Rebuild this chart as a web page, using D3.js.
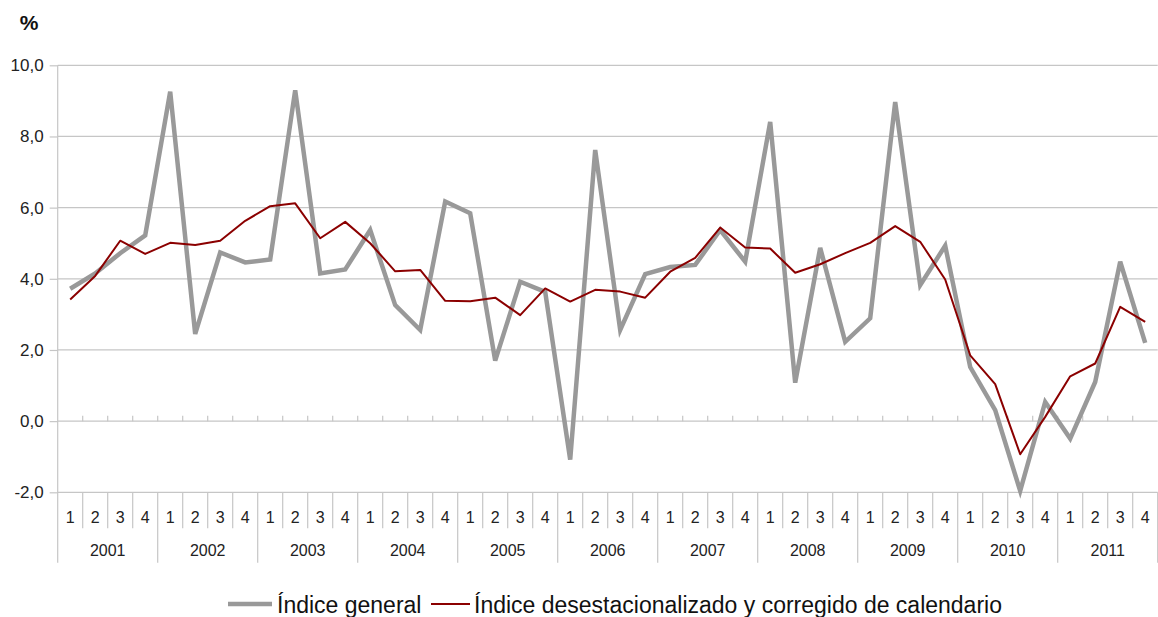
<!DOCTYPE html>
<html>
<head>
<meta charset="utf-8">
<script src="https://cdnjs.cloudflare.com/ajax/libs/d3/7.8.5/d3.min.js"></script>
<style>
  html, body { margin: 0; padding: 0; background: #fff; }
  svg { display: block; font-family: "Liberation Sans", Arial, sans-serif; }
</style>
</head>
<body>
<svg id="chart" width="1158" height="617"></svg>
<script>
// ---- Data ----
const years = ["2001","2002","2003","2004","2005","2006","2007","2008","2009","2010","2011"];
const quarters = ["1","2","3","4"];
const yTicks = [-2, 0, 2, 4, 6, 8, 10];
const seriesNames = ["Índice general", "Índice desestacionalizado y corregido de calendario"];

const indiceGeneral = [
  3.72, 4.15, 4.72, 5.22,
  9.26, 2.45, 4.74, 4.46,
  4.54, 9.30, 4.15, 4.26,
  5.37, 3.26, 2.56, 6.17,
  5.84, 1.70, 3.92, 3.63,
  -1.08, 7.62, 2.56, 4.13,
  4.33, 4.39, 5.37, 4.48,
  8.41, 1.08, 4.87, 2.23,
  2.89, 8.97, 3.82, 4.93,
  1.52, 0.31, -1.96, 0.54,
  -0.49, 1.10, 4.48, 2.20
];
const indiceDesest = [
  3.42, 4.08, 5.07, 4.70,
  5.01, 4.95, 5.07, 5.63,
  6.04, 6.12, 5.14, 5.60,
  5.00, 4.21, 4.25, 3.38,
  3.37, 3.47, 2.98, 3.73,
  3.36, 3.69, 3.64, 3.47,
  4.20, 4.59, 5.44, 4.88,
  4.85, 4.17, 4.41, 4.72,
  5.01, 5.48, 5.04, 3.98,
  1.85, 1.04, -0.93, 0.12,
  1.26, 1.62, 3.21, 2.79
];

// ---- Setup ----
const svg = d3.select("#chart");
const mLeft = 57.7, mRight = 1157.7, mTop = 65.3, mBottom = 492.3;
const gridColor = "#c6c6c6";

const cats = [];
years.forEach(yr => quarters.forEach(q => cats.push(yr + "-" + q)));

const x = d3.scaleBand().domain(cats).range([mLeft, mRight]).paddingInner(0).paddingOuter(0);
const xYear = d3.scaleBand().domain(years).range([mLeft, mRight]);
const y = d3.scaleLinear().domain([-2, 10]).range([mBottom, mTop]);

const locale = d3.formatLocale({decimal: ",", thousands: ".", grouping: [3], currency: ["", "€"], minus: "-"});
const fmt = locale.format(".1f");

// gridlines
svg.append("g").selectAll("line").data(yTicks).join("line")
  .attr("x1", mLeft).attr("x2", mRight)
  .attr("y1", d => y(d)).attr("y2", d => y(d))
  .attr("stroke", gridColor).attr("stroke-width", 1.2);

// y axis
const yAxis = svg.append("g").attr("transform", `translate(${mLeft},0)`)
  .call(d3.axisLeft(y).tickValues(yTicks).tickFormat(fmt).tickSizeInner(8).tickSizeOuter(0).tickPadding(6));
yAxis.select(".domain").remove();
yAxis.selectAll(".tick line").attr("stroke", gridColor).attr("stroke-width", 1.2);
yAxis.selectAll(".tick text").attr("font-size", 17).attr("fill", "#222").attr("font-family", "Liberation Sans, Arial, sans-serif");

// left axis line (extends into category table)
svg.append("line").attr("x1", mLeft).attr("x2", mLeft).attr("y1", mTop).attr("y2", mBottom + 70.5)
  .attr("stroke", gridColor).attr("stroke-width", 1.2);

// ticks on zero line (upward) at quarter boundaries
const boundaries = cats.slice(1).map(c => x(c));
svg.append("g").selectAll("line").data(boundaries).join("line")
  .attr("x1", d => d).attr("x2", d => d)
  .attr("y1", y(0)).attr("y2", y(0) - 5.5)
  .attr("stroke", gridColor).attr("stroke-width", 1.2);

// category table separators
svg.append("g").selectAll("line").data(cats.slice(1)).join("line")
  .attr("x1", d => x(d)).attr("x2", d => x(d))
  .attr("y1", mBottom)
  .attr("y2", d => d.endsWith("-1") ? mBottom + 70.5 : mBottom + 36)
  .attr("stroke", gridColor).attr("stroke-width", 1.2);
svg.append("line").attr("x1", mRight).attr("x2", mRight).attr("y1", mBottom).attr("y2", mBottom + 70.5)
  .attr("stroke", gridColor).attr("stroke-width", 1.2);

// quarter labels
svg.append("g").selectAll("text").data(cats).join("text")
  .attr("x", d => x(d) + x.bandwidth() / 2)
  .attr("y", mBottom + 31)
  .attr("text-anchor", "middle")
  .attr("font-size", 16).attr("fill", "#222")
  .text(d => d.split("-")[1]);

// year labels
svg.append("g").selectAll("text").data(years).join("text")
  .attr("x", d => xYear(d) + xYear.bandwidth() / 2)
  .attr("y", mBottom + 64)
  .attr("text-anchor", "middle")
  .attr("font-size", 16).attr("fill", "#222")
  .text(d => d);

// % label
svg.append("text").attr("x", 29).attr("y", 29.5).attr("text-anchor", "middle")
  .attr("font-size", 21).attr("font-weight", "bold").attr("fill", "#111").text("%");

// lines
const line = d3.line().x((d, i) => x(cats[i]) + x.bandwidth() / 2).y(d => y(d));
svg.append("path").datum(indiceGeneral).attr("d", line)
  .attr("fill", "none").attr("stroke", "#999999").attr("stroke-width", 4.5).attr("stroke-linejoin", "miter");
svg.append("path").datum(indiceDesest).attr("d", line)
  .attr("fill", "none").attr("stroke", "#8b0000").attr("stroke-width", 2).attr("stroke-linejoin", "round");

// legend
const legend = svg.append("g");
const items = [
  {name: seriesNames[0], color: "#999999", w: 4.5, x0: 228, x1: 272, tx: 277},
  {name: seriesNames[1], color: "#8b0000", w: 2, x0: 431, x1: 470, tx: 474}
];
items.forEach(it => {
  legend.append("line").attr("x1", it.x0).attr("x2", it.x1).attr("y1", 604).attr("y2", 604)
    .attr("stroke", it.color).attr("stroke-width", it.w);
  legend.append("text")
    .attr("transform", `translate(${it.tx},613) scale(1,1.05)`)
    .attr("font-size", 23).attr("fill", "#111").text(it.name);
});
</script>
</body>
</html>
